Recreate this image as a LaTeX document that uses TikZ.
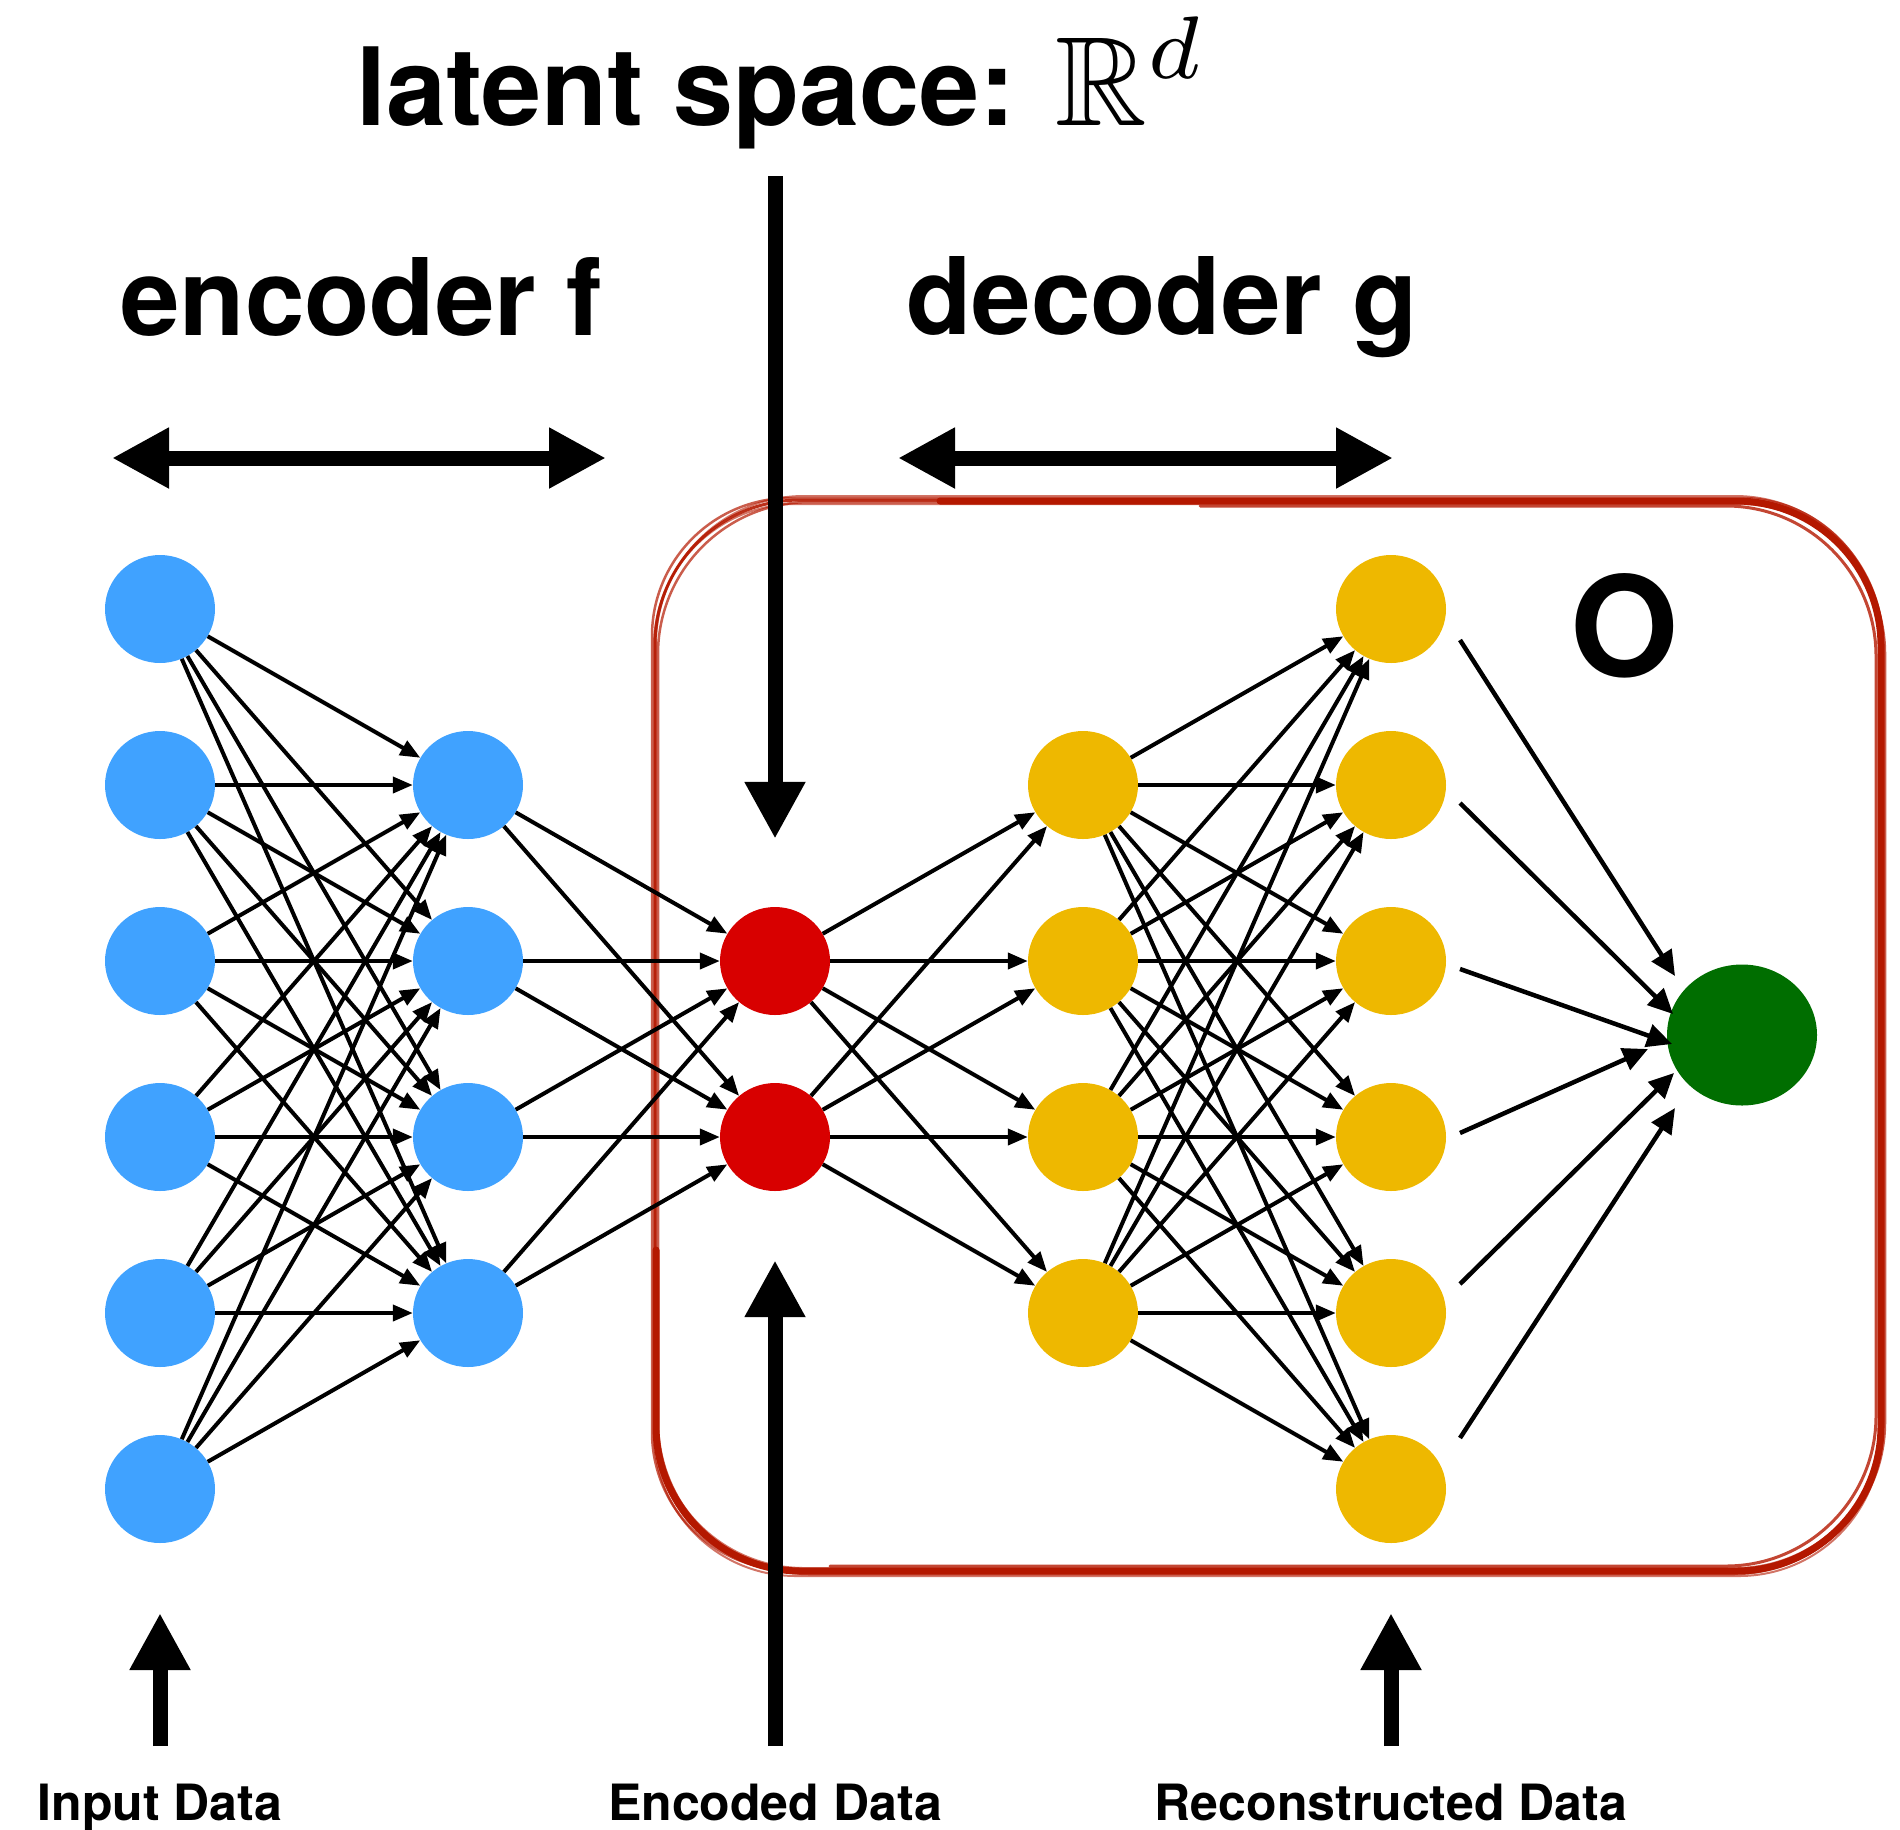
\documentclass[tikz,border=0pt]{standalone}
\usepackage{fontspec}
\usepackage{amssymb}
\usepackage{graphicx}
\setmainfont{TeX Gyre Heros}
\usetikzlibrary{arrows.meta,calc,shapes.geometric}

\definecolor{nodeblue}{RGB}{64,162,255}
\definecolor{nodered}{RGB}{216,0,0}
\definecolor{nodeyellow}{RGB}{238,184,0}
\definecolor{nodegreen}{RGB}{0,110,0}
\definecolor{boxred}{RGB}{180,24,0}

\begin{document}
\begin{tikzpicture}[x=1pt,y=-1pt,
  neuron/.style={ellipse, inner sep=0pt, minimum width=110pt, minimum height=108pt},
  link/.style={draw=black, line width=4pt, -{Triangle[length=20pt,width=16pt]}},
  outlink/.style={draw=black, line width=4.5pt, -{Triangle[length=25pt,width=23pt]}},
  bigarrow/.style={draw=black, line width=15pt, -{Triangle[length=57pt,width=57pt]}},
  twoway/.style={draw=black, line width=15pt, {Triangle[length=57pt,width=57pt]}-{Triangle[length=57pt,width=57pt]}},
  headline/.style={inner sep=0pt, anchor=base west, font=\fontsize{107pt}{120pt}\selectfont\bfseries},
  caption/.style={inner sep=0pt, anchor=base, font=\fontsize{50pt}{60pt}\selectfont\bfseries},
  sketch/.style={draw=boxred, line cap=round, line join=round}
]
\useasboundingbox (0,0) rectangle (1900,1829);

% hand-drawn frame around the decoder part
\foreach \dx/\dy/\r/\w/\o in {0/0/145/3/0.9, 3/-2/152/2.5/0.7, -3/2/138/2.5/0.7, 1/4/148/2/0.6, -1/-4/142/2/0.6}
  \draw[sketch, line width=\w pt, opacity=\o, rounded corners=\r pt, xshift=\dx pt, yshift=\dy pt]
    (655,500) rectangle (1882,1572);
\draw[sketch, line width=7pt, rounded corners=145pt]
  (940,501) -- (1881,501) -- (1881,1571) -- (656,1571) -- (656,1250);
\draw[sketch, line width=3pt, opacity=0.8, rounded corners=150pt]
  (1200,506) -- (1876,506) -- (1876,1566) -- (830,1566);

% layers
\foreach \i/\yy in {1/609,2/785,3/961,4/1137,5/1313,6/1489} {
  \node[neuron, fill=nodeblue] (in\i) at (160,\yy) {};
  \node[neuron, fill=nodeyellow] (out\i) at (1391,\yy) {};
}
\foreach \i/\yy in {1/785,2/961,3/1137,4/1313} {
  \node[neuron, fill=nodeblue] (h\i) at (468,\yy) {};
  \node[neuron, fill=nodeyellow] (d\i) at (1083,\yy) {};
}
\node[neuron, fill=nodered] (z1) at (775,961) {};
\node[neuron, fill=nodered] (z2) at (775,1137) {};
\node[ellipse, inner sep=0pt, minimum width=150pt, minimum height=141pt, fill=nodegreen] (g) at (1742,1035) {};

% dense connections
\foreach \i in {1,...,6} \foreach \j in {1,...,4} \draw[link] (in\i) -- (h\j);
\foreach \i in {1,...,4} \foreach \j in {1,2} \draw[link] (h\i) -- (z\j);
\foreach \i in {1,2} \foreach \j in {1,...,4} \draw[link] (z\i) -- (d\j);
\foreach \i in {1,...,4} \foreach \j in {1,...,6} \draw[link] (d\i) -- (out\j);

% reconstruction fed into the final unit
\foreach \i/\sy/\ex/\ey in {1/31/-67/-59, 2/18/-69/-21, 3/8/-70/9, 4/-4/-94/14, 5/-29/-68/38, 6/-51/-67/73}
  \draw[outlink] ($(out\i)+(69,\sy)$) -- ($(g)+(\ex,\ey)$);

% titles
\node[headline, font=\fontsize{108pt}{120pt}\selectfont\bfseries] (latent) at (356,125)
  {latent space: \scalebox{12.7}{\fontsize{10pt}{12pt}\selectfont$\mathbb{R}^d$}};
\node[headline] (enc) at (120,335) {encoder f};
\node[headline] (dec) at (906,334) {decoder g};
\node[inner sep=0pt, font=\fontsize{139pt}{150pt}\selectfont\bfseries] (olabel) at (1625,626) {O};

% span arrows
\coordinate (encL) at (112,458);
\coordinate (encR) at (606,458);
\coordinate (decL) at (898,458);
\coordinate (decR) at (1393,458);
\draw[twoway] (encL) -- (encR);
\draw[twoway] (decL) -- (decR);

% pointers to the code layer
\coordinate (ltop) at (775,176);
\coordinate (lbot) at (775,1746);
\draw[bigarrow, shorten >=68pt] (ltop) -- (z1);
\draw[bigarrow, shorten >=69pt] (lbot) -- (z2);

% bottom captions
\node[caption] (incap) at (160,1820) {Input Data};
\node[caption] (enccap) at (775,1820) {Encoded Data};
\node[caption] (reccap) at (1391,1820) {Reconstructed Data};
\coordinate (inbot) at (160,1746);
\coordinate (intip) at (160,1613);
\coordinate (recbot) at (1391,1746);
\coordinate (rectip) at (1391,1613);
\draw[bigarrow] (inbot) -- (intip);
\draw[bigarrow] (recbot) -- (rectip);
\end{tikzpicture}
\end{document}
